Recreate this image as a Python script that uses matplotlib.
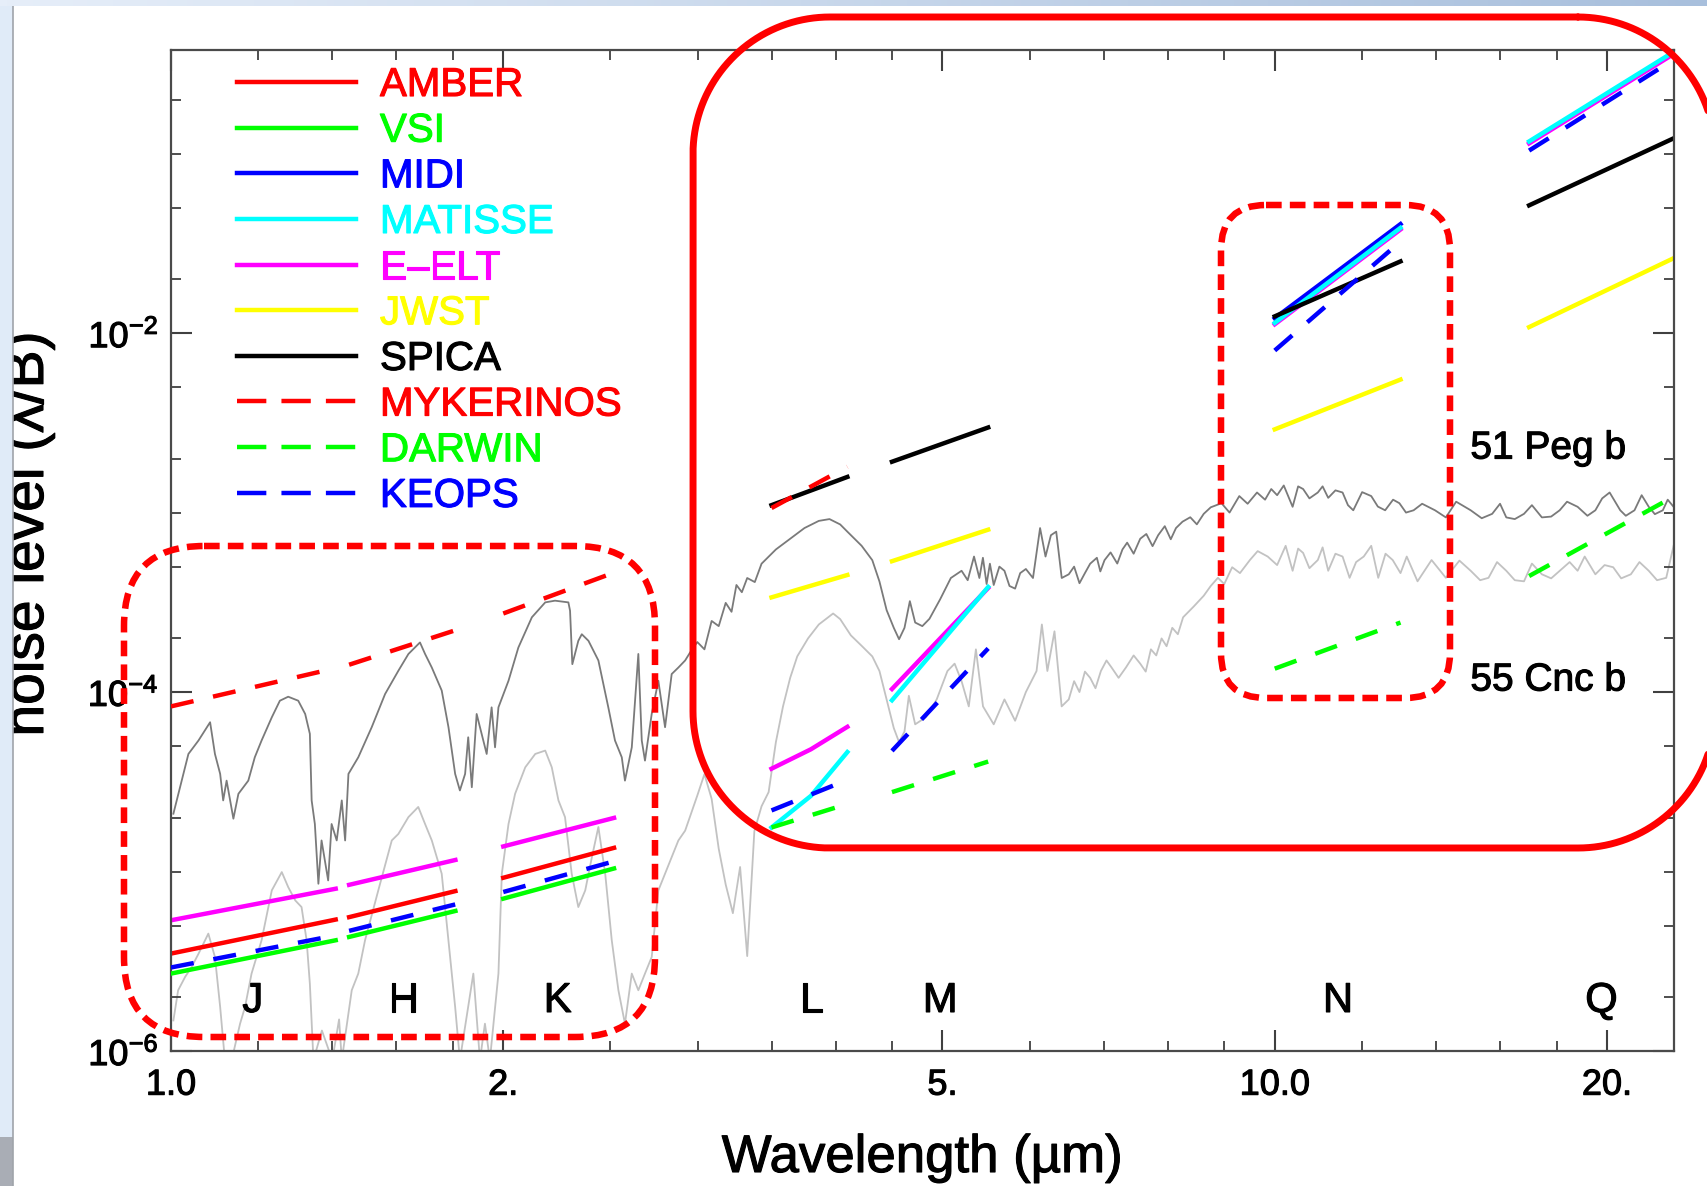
import numpy as np
import matplotlib
matplotlib.use('Agg')
import matplotlib.pyplot as plt
import matplotlib.transforms as mtransforms
import matplotlib.patheffects as pe
from matplotlib.text import Text
from matplotlib.lines import Line2D
from matplotlib.patches import FancyBboxPatch, Rectangle
from matplotlib.colors import LinearSegmentedColormap
from matplotlib.ticker import FixedLocator, FixedFormatter, NullFormatter

plt.rcParams['font.family'] = ['Liberation Sans', 'DejaVu Sans']
plt.rcParams['mathtext.fontset'] = 'custom'
plt.rcParams['mathtext.rm'] = 'Liberation Sans'
plt.rcParams['mathtext.it'] = 'Liberation Sans:italic'
plt.rcParams['mathtext.bf'] = 'Liberation Sans:bold'

nan = np.nan

# --- planet spectra (contrast) ---
peg_wl = [1.005, 1.037, 1.059, 1.085, 1.096, 1.108, 1.115, 1.123, 1.139, 1.151,
          1.175, 1.191, 1.208, 1.234, 1.255, 1.277, 1.304, 1.323, 1.336, 1.341,
          1.350, 1.360, 1.369, 1.388, 1.398, 1.413, 1.428, 1.438, 1.448, 1.478,
          1.520, 1.563, 1.607, 1.641, 1.681, 1.699, 1.723, 1.759, 1.784, 1.809,
          1.827, 1.847, 1.859, 1.873, 1.892, 1.912, 1.932, 1.952, 1.966, 1.980,
          2.022, 2.064, 2.123, 2.183, 2.228, 2.291, 2.299, 2.310, 2.339, 2.356,
          2.389, 2.439, 2.490, 2.525, 2.561, 2.578, 2.615, 2.651, 2.670, 2.688,
          2.726, 2.764, 2.803, 2.842, 2.882, 2.923, 2.953, 2.998, 3.043, 3.089,
          3.135, 3.181, 3.22, 3.253, 3.29, 3.327, 3.38, 3.428, 3.532, 3.639,
          3.749, 3.863, 3.950, 4.039, 4.100, 4.224, 4.319, 4.384, 4.450, 4.517,
          4.567, 4.619, 4.671, 4.723, 4.794, 4.866, 4.976, 5.088, 5.203, 5.27,
          5.340, 5.400, 5.44, 5.482, 5.52, 5.564, 5.63, 5.690, 5.75, 5.818,
          5.88, 5.950, 6.039, 6.129, 6.199, 6.269, 6.339, 6.412, 6.507, 6.58,
          6.654, 6.73, 6.804, 6.9, 6.95, 7.011, 7.1, 7.2, 7.278, 7.35,
          7.45, 7.553, 7.65, 7.75, 7.841, 7.95, 8.05, 8.138, 8.25, 8.384,
          8.5, 8.623, 8.75, 8.949, 9.1, 9.287, 9.45, 9.637, 9.8, 9.927,
          10.05, 10.19, 10.38, 10.5, 10.61, 10.75, 10.94, 11.05, 11.18, 11.35,
          11.52, 11.65, 11.78, 12.0, 12.23, 12.4, 12.59, 12.8, 12.97, 13.15,
          13.36, 13.6, 13.97, 14.29, 14.6, 15.05, 15.4, 15.74, 16.0, 16.21,
          16.5, 16.82, 17.1, 17.46, 17.8, 18.12, 18.4, 18.81, 19.2, 19.52,
          19.8, 20.11, 20.56, 20.8, 21.18, 21.5, 21.82, 22.1, 22.47, 22.7,
          22.98]
peg_val = [2.10e-5, 4.52e-5, 5.37e-5, 6.79e-5, 4.52e-5, 3.50e-5, 2.49e-5, 3.21e-5, 1.97e-5, 2.71e-5,
           3.21e-5, 4.33e-5, 5.37e-5, 7.23e-5, 8.95e-5, 9.42e-5, 8.95e-5, 7.55e-5, 5.85e-5, 2.49e-5,
           1.84e-5, 8.55e-6, 1.49e-5, 8.92e-6, 1.84e-5, 1.49e-5, 2.49e-5, 1.49e-5, 3.50e-5, 4.33e-5,
           6.37e-5, 9.75e-5, 1.315e-4, 1.63e-4, 1.89e-4, 1.63e-4, 1.37e-4, 1.02e-4, 6.37e-5, 3.50e-5,
           2.83e-5, 3.50e-5, 5.60e-5, 2.95e-5, 7.55e-5, 5.85e-5, 4.52e-5, 8.22e-5, 4.92e-5, 8.22e-5,
           1.156e-4, 1.77e-4, 2.61e-4, 3.16e-4, 3.23e-4, 3.16e-4, 2.84e-4, 1.43e-4, 1.93e-4, 2.10e-4,
           1.93e-4, 1.50e-4, 8.22e-5, 5.37e-5, 4.33e-5, 3.21e-5, 4.92e-5, 1.63e-4, 5.37e-5, 4.15e-5,
           7.55e-5, 1.156e-4, 6.37e-5, 1.26e-4, 1.37e-4, 1.50e-4, 1.66e-4, 1.90e-4, 1.73e-4, 2.49e-4,
           2.33e-4, 3.14e-4, 2.8e-4, 3.95e-4, 3.6e-4, 4.32e-4, 4.1e-4, 5.19e-4, 6.23e-4, 7.15e-4,
           8.20e-4, 8.99e-4, 9.20e-4, 8.59e-4, 7.83e-4, 6.53e-4, 5.43e-4, 4.13e-4, 2.86e-4, 2.28e-4,
           1.97e-4, 2.28e-4, 3.21e-4, 2.44e-4, 2.33e-4, 2.56e-4, 3.29e-4, 4.32e-4, 4.74e-4, 4.2e-4,
           5.69e-4, 4.32e-4, 5.6e-4, 4.0e-4, 5.19e-4, 3.95e-4, 5.0e-4, 4.74e-4, 3.9e-4, 3.77e-4,
           4.6e-4, 4.85e-4, 4.32e-4, 8.20e-4, 5.69e-4, 7.48e-4, 7.83e-4, 4.32e-4, 4.53e-4, 5.0e-4,
           4.04e-4, 4.6e-4, 5.19e-4, 5.6e-4, 4.7e-4, 5.43e-4, 6.0e-4, 5.2e-4, 6.23e-4, 6.8e-4,
           5.9e-4, 7.15e-4, 7.6e-4, 6.5e-4, 7.48e-4, 8.4e-4, 7.1e-4, 8.20e-4, 8.9e-4, 9.42e-4,
           8.6e-4, 9.84e-4, 1.07e-3, 1.128e-3, 1.0e-3, 1.236e-3, 1.12e-3, 1.294e-3, 1.18e-3, 1.353e-3,
           1.25e-3, 1.416e-3, 1.077e-3, 1.4e-3, 1.353e-3, 1.2e-3, 1.294e-3, 1.4e-3, 1.208e-3, 1.33e-3,
           1.294e-3, 1.1e-3, 1.03e-3, 1.3e-3, 1.236e-3, 1.08e-3, 1.03e-3, 1.18e-3, 1.128e-3, 1.0e-3,
           1.03e-3, 1.12e-3, 1.03e-3, 9.4e-4, 1.15e-3, 1.03e-3, 9.3e-4, 9.84e-4, 1.12e-3, 9.4e-4,
           9.2e-4, 9.84e-4, 1.1e-3, 9.4e-4, 9.5e-4, 1.03e-3, 1.15e-3, 1.077e-3, 9.6e-4, 1.03e-3,
           1.2e-3, 1.294e-3, 1.03e-3, 9.6e-4, 1.03e-3, 1.25e-3, 1.077e-3, 9.8e-4, 1.03e-3, 1.18e-3,
           1.077e-3]

cnc_wl = [1.005, 1.015, 1.030, 1.044, 1.059, 1.081, 1.096, 1.108, 1.119, 1.135,
          1.155, 1.167, 1.183, 1.208, 1.234, 1.260, 1.277, 1.296, 1.313, 1.327,
          1.336, 1.346, 1.37, 1.40, 1.42, 1.428, 1.458, 1.478, 1.499, 1.541,
          1.585, 1.607, 1.641, 1.675, 1.699, 1.723, 1.759, 1.784, 1.809, 1.827,
          1.859, 1.879, 1.905, 1.925, 1.945, 1.980, 1.994, 2.022, 2.050, 2.094,
          2.138, 2.183, 2.213, 2.244, 2.275, 2.307, 2.339, 2.373, 2.406, 2.439,
          2.474, 2.508, 2.543, 2.578, 2.615, 2.651, 2.688, 2.726, 2.764, 2.803,
          2.842, 2.882, 2.923, 2.998, 3.043, 3.089, 3.135, 3.181, 3.229, 3.278,
          3.327, 3.377, 3.428, 3.479, 3.532, 3.585, 3.639, 3.693, 3.777, 3.863,
          3.980, 4.039, 4.130, 4.224, 4.319, 4.384, 4.450, 4.517, 4.567, 4.619,
          4.661, 4.723, 4.830, 4.940, 5.052, 5.128, 5.203, 5.282, 5.361, 5.441,
          5.564, 5.690, 5.818, 5.950, 6.084, 6.152, 6.223, 6.316, 6.411, 6.507,
          6.58, 6.654, 6.73, 6.804, 6.88, 6.958, 7.04, 7.115, 7.22, 7.331,
          7.45, 7.553, 7.64, 7.723, 7.81, 7.897, 7.98, 8.075, 8.17, 8.260,
          8.446, 8.623, 8.75, 8.882, 9.0, 9.150, 9.3, 9.495, 9.65, 9.854,
          10.05, 10.23, 10.38, 10.5, 10.61, 10.75, 10.94, 11.05, 11.18, 11.35,
          11.52, 11.69, 11.85, 12.04, 12.23, 12.41, 12.6, 12.79, 13.0, 13.17,
          13.47, 13.87, 14.29, 14.7, 15.05, 15.35, 15.62, 15.9, 16.21, 16.5,
          16.82, 17.1, 17.46, 17.8, 18.12, 18.5, 18.81, 19.09, 19.52, 19.9,
          20.26, 20.6, 21.02, 21.4, 21.82, 22.2, 22.63, 22.98]
cnc_val = [1.48e-6, 2.18e-6, 2.59e-6, 2.94e-6, 3.48e-6, 4.51e-6, 3.34e-6, 1.76e-6, 8.9e-7, 8.9e-7,
           1.42e-6, 1.76e-6, 2.70e-6, 4.14e-6, 7.85e-6, 9.93e-6, 8.19e-6, 6.90e-6, 6.34e-6, 4.14e-6,
           2.37e-6, 8.9e-7, 1.3e-6, 8.9e-7, 1.5e-6, 8.9e-7, 2.18e-6, 2.70e-6, 4.14e-6, 7.85e-6,
           1.49e-5, 1.62e-5, 2.01e-5, 2.29e-5, 1.84e-5, 1.49e-5, 9.72e-6, 4.14e-6, 1.76e-6, 8.9e-7,
           1.76e-6, 2.70e-6, 8.9e-7, 1.42e-6, 8.9e-7, 2.70e-6, 9.72e-6, 1.84e-5, 2.71e-5, 3.81e-5,
           4.52e-5, 4.72e-5, 3.81e-5, 2.49e-5, 2.01e-5, 9.72e-6, 6.34e-6, 7.85e-6, 1.20e-5, 1.77e-5,
           9.72e-6, 4.14e-6, 2.18e-6, 1.42e-6, 2.70e-6, 2.18e-6, 2.70e-6, 3.34e-6, 7.85e-6, 9.72e-6,
           1.20e-5, 1.49e-5, 1.69e-5, 2.65e-5, 3.49e-5, 2.54e-5, 1.34e-5, 8.46e-6, 5.86e-6, 1.06e-5,
           3.38e-6, 1.68e-5, 2.31e-5, 2.77e-5, 5.26e-5, 8.32e-5, 1.20e-4, 1.58e-4, 1.99e-4, 2.38e-4,
           2.74e-4, 2.55e-4, 2.07e-4, 1.81e-4, 1.58e-4, 1.31e-4, 9.1e-5, 6.3e-5, 5.26e-5, 6.03e-5,
           9.53e-5, 6.61e-5, 7.24e-5, 9.1e-5, 1.31e-4, 1.44e-4, 1.15e-4, 8.32e-5, 1.73e-4, 8.32e-5,
           6.61e-5, 9.1e-5, 6.92e-5, 1.0e-4, 1.31e-4, 2.38e-4, 1.31e-4, 2.18e-4, 8.32e-5, 9.1e-5,
           1.15e-4, 1.0e-4, 1.3e-4, 1.20e-4, 1.05e-4, 1.31e-4, 1.5e-4, 1.37e-4, 1.2e-4, 1.37e-4,
           1.6e-4, 1.44e-4, 1.3e-4, 1.73e-4, 1.6e-4, 1.99e-4, 1.8e-4, 2.28e-4, 2.1e-4, 2.61e-4,
           3.0e-4, 3.44e-4, 3.9e-4, 4.33e-4, 4.0e-4, 4.96e-4, 4.6e-4, 5.44e-4, 6.1e-4, 5.69e-4,
           5.1e-4, 6.53e-4, 4.74e-4, 6.3e-4, 5.96e-4, 4.9e-4, 5.44e-4, 6.4e-4, 4.74e-4, 5.9e-4,
           5.69e-4, 4.33e-4, 5.3e-4, 5.69e-4, 6.53e-4, 4.33e-4, 5.9e-4, 5.44e-4, 4.6e-4, 5.69e-4,
           4.14e-4, 5.44e-4, 4.33e-4, 5.4e-4, 4.74e-4, 4.2e-4, 4.33e-4, 5.3e-4, 4.74e-4, 4.2e-4,
           4.14e-4, 5.2e-4, 4.53e-4, 4.3e-4, 4.74e-4, 5.3e-4, 4.74e-4, 5.69e-4, 4.53e-4, 5.1e-4,
           4.96e-4, 4.3e-4, 4.53e-4, 5.3e-4, 4.74e-4, 4.2e-4, 4.33e-4, 6.53e-4]

# --- instrument noise levels, one segment per band (nan = gap) ---
amber_wl = [1.0, 1.41, nan, 1.45, 1.81, nan, 2.0, 2.52]
amber_val = [3.49e-6, 5.40e-6, nan, 5.57e-6, 7.78e-6, nan, 9.23e-6, 1.355e-5]

vsi_wl = [1.0, 1.41, nan, 1.45, 1.81, nan, 2.0, 2.52]
vsi_val = [2.70e-6, 4.14e-6, nan, 4.32e-6, 6.03e-6, nan, 7.06e-6, 1.04e-5]

midi_wl = [10.0, 13.0]
midi_val = [1.21e-2, 4.05e-2]

matisse_wl = [3.5, 3.8, 4.1, nan, 4.5, 5.5, nan, 10.0, 13.0, nan, 17.0, 23.0]
matisse_val = [1.76e-5, 2.64e-5, 4.63e-5, nan, 9.0e-5, 3.85e-4, nan, 1.14e-2, 3.86e-2, nan, 0.117, 0.37]

eelt_wl = [1.0, 1.41, nan, 1.45, 1.81, nan, 2.0, 2.52, nan, 3.5, 3.8, 4.1, nan,
           4.5, 5.5, nan, 10.0, 13.0, nan, 17.0, 23.0]
eelt_val = [5.35e-6, 8.02e-6, nan, 8.43e-6, 1.16e-5, nan, 1.38e-5, 1.99e-5, nan,
            3.74e-5, 4.8e-5, 6.4e-5, nan, 1.04e-4, 3.80e-4, nan, 1.12e-2, 3.78e-2,
            nan, 0.114, 0.36]

jwst_wl = [3.5, 4.1, nan, 4.5, 5.5, nan, 10.0, 13.0, nan, 17.0, 23.0]
jwst_val = [3.37e-4, 4.49e-4, nan, 5.36e-4, 8.03e-4, nan, 2.91e-3, 5.51e-3, nan, 1.08e-2, 2.62e-2]

spica_wl = [3.5, 4.1, nan, 4.5, 5.5, nan, 10.0, 13.0, nan, 17.0, 23.0]
spica_val = [1.10e-3, 1.58e-3, nan, 1.92e-3, 2.98e-3, nan, 1.24e-2, 2.51e-2, nan, 5.15e-2, 0.122]

myk_wl = [1.0, 1.41, nan, 1.45, 1.81, nan, 2.0, 2.52, nan, 3.5, 4.1]
myk_val = [8.32e-5, 1.36e-4, nan, 1.42e-4, 2.21e-4, nan, 2.74e-4, 4.63e-4, nan, 1.06e-3, 1.80e-3]

darwin_wl = [3.5, 4.1, nan, 4.5, 5.5, nan, 10.0, 13.0, nan, 17.0, 23.0]
darwin_val = [1.76e-5, 2.38e-5, nan, 2.77e-5, 4.10e-5, nan, 1.35e-4, 2.44e-4, nan, 4.43e-4, 1.23e-3]

keops_wl = [1.0, 1.41, nan, 1.45, 1.81, nan, 2.0, 2.52, nan, 3.5, 4.1, nan,
            4.5, 5.5, nan, 10.0, 13.0, nan, 17.0, 23.0]
keops_val = [2.92e-6, 4.41e-6, nan, 4.67e-6, 6.56e-6, nan, 7.69e-6, 1.14e-5, nan,
             2.19e-5, 3.24e-5, nan, 4.70e-5, 1.75e-4, nan, 8.0e-3, 3.24e-2, nan, 0.104, 0.335]

band_names = ['J', 'H', 'K', 'L', 'M', 'N', 'Q']
band_pos = [1.186, 1.623, 2.24, 3.805, 4.976, 11.41, 19.77]

W, H = 1708, 1186
fig = plt.figure(figsize=(W / 100, H / 100), dpi=100)
ax = fig.add_axes([171 / W, 135 / H, 1503 / W, 1001 / H])
# pixel coordinates, origin top-left
px = mtransforms.Affine2D().scale(1 / W, -1 / H).translate(0, 1) + fig.transFigure

ax.plot(cnc_wl, cnc_val, color='#c2c2c2', lw=1.3, zorder=1)
ax.plot(peg_wl, peg_val, color='#7a7a7a', lw=1.3, zorder=1.1)

lw = 3.2
dash = (0, (5.2, 4.5))
ax.plot(eelt_wl, eelt_val, color='magenta', lw=lw, zorder=2)
ax.plot(midi_wl, midi_val, color='blue', lw=lw, zorder=2.1)
ax.plot(matisse_wl, matisse_val, color='cyan', lw=lw, zorder=2.2)
ax.plot(jwst_wl, jwst_val, color='yellow', lw=lw, zorder=2.3)
ax.plot(spica_wl, spica_val, color='black', lw=lw, zorder=2.4)
ax.plot(amber_wl, amber_val, color='red', lw=lw, zorder=2.5)
ax.plot(vsi_wl, vsi_val, color='#00ff00', lw=lw, zorder=2.6)
ax.plot(myk_wl, myk_val, color='red', lw=lw, ls=dash, zorder=2.7)
ax.plot(darwin_wl, darwin_val, color='#00ff00', lw=lw, ls=dash, zorder=2.8)
ax.plot(keops_wl, keops_val, color='blue', lw=lw, ls=dash, zorder=2.9)

ax.set_xscale('log')
ax.set_yscale('log')
ax.set_xlim(1.0, 23.0)
ax.set_ylim(1e-6, 0.378)

ax.xaxis.set_major_locator(FixedLocator([1, 2, 5, 10, 20]))
ax.xaxis.set_major_formatter(FixedFormatter(['1.0', '2.', '5.', '10.0', '20.']))
ax.xaxis.set_minor_locator(FixedLocator([1.2, 1.4, 1.6, 1.8, 2.5, 3, 3.5, 4, 4.5,
                                         6, 7, 8, 9, 12, 14, 16, 18]))
ax.xaxis.set_minor_formatter(NullFormatter())
ax.yaxis.set_major_locator(FixedLocator([1e-6, 1e-4, 1e-2]))
ax.yaxis.set_major_formatter(FixedFormatter([r'$10^{-6}$', r'$10^{-4}$', r'$10^{-2}$']))
ax.yaxis.set_minor_locator(FixedLocator([2e-6, 5e-6, 1e-5, 2e-5, 5e-5, 2e-4, 5e-4, 1e-3,
                                         2e-3, 5e-3, 2e-2, 5e-2, 1e-1, 2e-1]))
ax.yaxis.set_minor_formatter(NullFormatter())

ax.tick_params(which='both', direction='in', top=True, right=True, color='#404040')
ax.tick_params(which='major', length=15, width=1.5)
ax.tick_params(which='minor', length=7, width=1.3)
ax.tick_params(axis='x', which='major', labelsize=26, pad=12)
ax.tick_params(axis='y', which='major', labelsize=26, pad=9)
for sp in ax.spines.values():
    sp.set_color('#4a4a4a')
    sp.set_linewidth(1.6)

for name, x in zip(band_names, band_pos):
    ax.text(x, 1.65e-6, name, fontsize=30, ha='center', va='baseline')
ax.text(15.04, 2.0e-3, '51 Peg b', fontsize=28, ha='left', va='baseline')
ax.text(15.04, 1.02e-4, '55 Cnc b', fontsize=28, ha='left', va='baseline')

names = ['AMBER', 'VSI', 'MIDI', 'MATISSE', 'E–ELT', 'JWST', 'SPICA',
         'MYKERINOS', 'DARWIN', 'KEOPS']
colors = ['red', '#00ff00', 'blue', 'cyan', 'magenta', 'yellow', 'black',
          'red', '#00ff00', 'blue']
styles = ['-'] * 7 + [(0, (6.6, 3.4))] * 3
handles = [Line2D([], [], color=c, lw=lw, ls=s) for c, s in zip(colors, styles)]
ax.legend(handles, names, loc='upper left', bbox_to_anchor=(0.0439, 0.984),
          frameon=False, fontsize=29, handlelength=2.95, handletextpad=0.6,
          labelspacing=0.19, borderaxespad=0, borderpad=0, labelcolor=colors)

fig.text(922 / W, 1 - 1172 / H, 'Wavelength (µm)', fontsize=38,
         ha='center', va='baseline')
fig.text(43 / W, 1 - 534 / H, 'noise level (λ/B)', fontsize=41, rotation=90,
         rotation_mode='anchor', ha='center', va='baseline')

# slightly heavier strokes on all lettering
for t in fig.findobj(Text):
    t.set_path_effects([pe.withStroke(linewidth=0.8, foreground=t.get_color())])


def rounded_outline(x0, y0, x1, y1, r, n=40):
    """Closed outline of a rounded rectangle as a polyline (pixel coords)."""
    corners = [(x1 - r, y0 + r, -90, 0), (x1 - r, y1 - r, 0, 90),
               (x0 + r, y1 - r, 90, 180), (x0 + r, y0 + r, 180, 270)]
    xs, ys = [], []
    for cx, cy, a0, a1 in corners:
        a = np.radians(np.linspace(a0, a1, n))
        xs.extend(cx + r * np.cos(a))
        ys.extend(cy + r * np.sin(a))
    return xs + xs[:1], ys + ys[:1]


# highlight boxes
bx, by = rounded_outline(693, 17, 1715, 848, 137)
fig.add_artist(Line2D(bx, by, transform=px, color='red', lw=5.0, zorder=6,
                      solid_capstyle='round', solid_joinstyle='round'))
box_kw = dict(transform=px, fill=False, edgecolor='red', zorder=6)
fig.add_artist(FancyBboxPatch((124, 546), 531, 491,
                              boxstyle='round,pad=0,rounding_size=80',
                              lw=4.7, ls=(0, (2.4, 1.25)), **box_kw))
fig.add_artist(FancyBboxPatch((1221, 205), 229, 493,
                              boxstyle='round,pad=0,rounding_size=45',
                              lw=4.7, ls=(0, (2.4, 1.25)), **box_kw))

# slide background edges
fig.add_artist(Rectangle((0, 0), 13, H, transform=px, facecolor='#e0ebf8',
                         edgecolor='none', zorder=8))
fig.add_artist(Rectangle((0, 1137), 13, 49, transform=px, facecolor='#a9adb5',
                         edgecolor='none', zorder=8))
fig.add_artist(Line2D([13, 13], [0, H], transform=px, color='#a0a4aa', lw=1.2, zorder=8))
top = fig.add_axes([0, 1 - 6 / H, 1, 6 / H], zorder=9)
top.imshow(np.linspace(0, 1, 256)[None, :], aspect='auto',
           cmap=LinearSegmentedColormap.from_list('edge', ['#e6eef9', '#a8bfdc']))
top.axis('off')

fig.savefig('out.png', dpi=100)
